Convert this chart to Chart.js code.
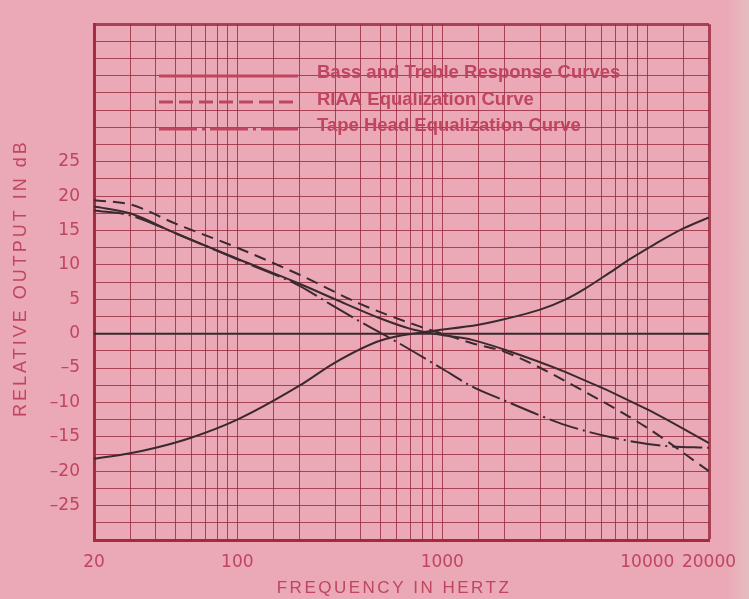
<!DOCTYPE html>
<html lang="en">
<head>
<meta charset="UTF-8">
<title>Bass, Treble, RIAA and Tape Head Curves</title>
<script src="https://cdn.jsdelivr.net/npm/chart.js"></script>
<style>
  html, body { margin: 0; padding: 0; }
  body {
    width: 749px;
    height: 599px;
    overflow: hidden;
    background: linear-gradient(to right, #eba8b6 0, #eba8b6 726px, #e9b3bc 738px, #e4bcc0 749px);
  }
  .wrap { position: relative; width: 749px; height: 599px; }
</style>
</head>
<body>
<div class="wrap"><canvas id="eqChart"></canvas></div>
<script>
// tick labels
const xTickLabels = [20, 100, 1000, 10000, 20000];
const yTickLabels = [-25, -20, -15, -10, -5, 0, 5, 10, 15, 20, 25];

// legend texts
const legendLabels = [
  'Bass and Treble Response Curves',
  'RIAA Equalization Curve',
  'Tape Head Equalization Curve'
];

// solid curve: bass boost / treble cut
const boostFreq = [20, 30, 50, 100, 200, 300, 500, 700, 1000, 1400, 2000, 4000, 10000, 20000];
const boostDb   = [18.5, 17.5, 14.6, 10.9, 7.3, 5.0, 2.2, 0.7, -0.2, -0.9, -2.3, -5.6, -11.0, -15.9];

// solid curve: bass cut / treble boost
const cutFreq = [20, 30, 40, 60, 100, 200, 300, 500, 800, 1500, 2000, 3000, 4000, 5000, 6500, 8300, 11000, 15000, 20000];
const cutDb   = [-18.2, -17.4, -16.6, -15.1, -12.5, -7.6, -4.2, -1.0, 0.2, 1.3, 2.1, 3.5, 5.0, 6.6, 8.8, 10.9, 13.1, 15.3, 16.9];

// flat response
const flatFreq = [20, 20000];
const flatDb   = [0, 0];

// RIAA playback curve
const riaaFreq = [20, 30, 50, 100, 200, 400, 750, 1000, 1400, 2000, 5000, 10000, 20000];
const riaaDb   = [19.4, 18.8, 16.0, 12.5, 8.6, 4.3, 1.2, 0.0, -1.4, -2.6, -8.5, -13.7, -20.0];

// tape head playback curve
const tapeFreq = [20, 30, 50, 100, 200, 280, 400, 600, 1000, 1400, 2000, 3000, 4000, 7000, 12000, 20000];
const tapeDb   = [17.9, 17.2, 14.6, 10.8, 7.0, 4.4, 1.7, -1.2, -5.1, -7.7, -9.7, -11.9, -13.3, -15.2, -16.3, -16.6];

const curveColor = '#3a2a2e';
const gridColor = 'rgba(150, 40, 60, 0.8)';
const frameColor = '#a82a40';
const textColor = '#bf4560';
const fontFamily = '"Liberation Sans", Arial, sans-serif';
const tickFamily = '"DejaVu Sans", Arial, sans-serif';

function pts(freqs, dbs) {
  return freqs.map((f, i) => ({ x: f, y: dbs[i] }));
}

function curve(freqs, dbs, dash) {
  return {
    data: pts(freqs, dbs),
    borderColor: curveColor,
    borderWidth: 2,
    borderDash: dash,
    pointRadius: 0,
    cubicInterpolationMode: 'monotone',
    fill: false
  };
}

// axis titles, drawn with letter spacing
const axisTitles = {
  id: 'axisTitles',
  afterDraw(chart) {
    const { ctx, chartArea } = chart;
    ctx.save();
    ctx.fillStyle = textColor;
    ctx.font = '17px ' + fontFamily;
    ctx.textAlign = 'center';
    ctx.textBaseline = 'middle';
    ctx.letterSpacing = '2.5px';
    ctx.fillText('FREQUENCY IN HERTZ', chartArea.left + 300, 588);
    ctx.font = '18px ' + fontFamily;
    ctx.letterSpacing = '3px';
    ctx.translate(21, (chartArea.top + chartArea.bottom) / 2 - 4);
    ctx.rotate(-Math.PI / 2);
    ctx.fillText('RELATIVE OUTPUT IN dB', 0, 0);
    ctx.restore();
  }
};

// legend box inside the plot
const legendBox = {
  id: 'legendBox',
  afterDatasetsDraw(chart) {
    const ctx = chart.ctx;
    const dashes = [[], [14, 6], [38, 5, 3, 5]];
    const lineY = [76, 102, 129];
    const textY = [73, 100, 126];
    ctx.save();
    ctx.strokeStyle = textColor;
    ctx.fillStyle = textColor;
    ctx.lineWidth = 3;
    ctx.font = 'bold 18.5px ' + fontFamily;
    ctx.textBaseline = 'middle';
    legendLabels.forEach((label, i) => {
      ctx.setLineDash(dashes[i]);
      ctx.beginPath();
      ctx.moveTo(159, lineY[i]);
      ctx.lineTo(298, lineY[i]);
      ctx.stroke();
      ctx.fillText(label, 317, textY[i]);
    });
    ctx.restore();
  }
};

new Chart(document.getElementById('eqChart'), {
  type: 'line',
  data: {
    datasets: [
      curve(boostFreq, boostDb, []),
      curve(cutFreq, cutDb, []),
      curve(flatFreq, flatDb, []),
      curve(riaaFreq, riaaDb, [12, 7]),
      curve(tapeFreq, tapeDb, [30, 5, 2, 5])
    ]
  },
  options: {
    responsive: true,
    maintainAspectRatio: false,
    animation: false,
    layout: { padding: { top: 14, right: 40, left: 0, bottom: 0 } },
    plugins: {
      legend: { display: false },
      tooltip: { enabled: false }
    },
    scales: {
      x: {
        type: 'logarithmic',
        min: 20,
        max: 20000,
        afterFit: scale => { scale.height = 59; },
        border: { color: frameColor, width: 3 },
        grid: {
          drawTicks: false,
          color: gridColor,
          lineWidth: c => (c.tick && c.tick.value === 20000 ? 3 : 1)
        },
        ticks: {
          autoSkip: false,
          maxRotation: 0,
          padding: 12,
          color: textColor,
          font: { family: tickFamily, size: 17 },
          callback: v => (xTickLabels.includes(v) ? String(v) : '')
        }
      },
      y: {
        type: 'linear',
        min: -30,
        max: 45,
        afterFit: scale => { scale.width = 94; },
        border: { color: frameColor, width: 3 },
        grid: {
          drawTicks: false,
          color: gridColor,
          lineWidth: c => (c.tick && Math.abs(c.tick.value - 45) < 1e-6 ? 3 : 1)
        },
        ticks: {
          stepSize: 2.5,
          autoSkip: false,
          padding: 14,
          color: textColor,
          font: { family: tickFamily, size: 17 },
          callback: v => {
            const r = Math.round(v);
            if (Math.abs(v - r) > 1e-6 || !yTickLabels.includes(r)) return '';
            return r < 0 ? '\u2013' + Math.abs(r) : String(r);
          }
        }
      }
    }
  },
  plugins: [axisTitles, legendBox]
});
</script>
</body>
</html>
